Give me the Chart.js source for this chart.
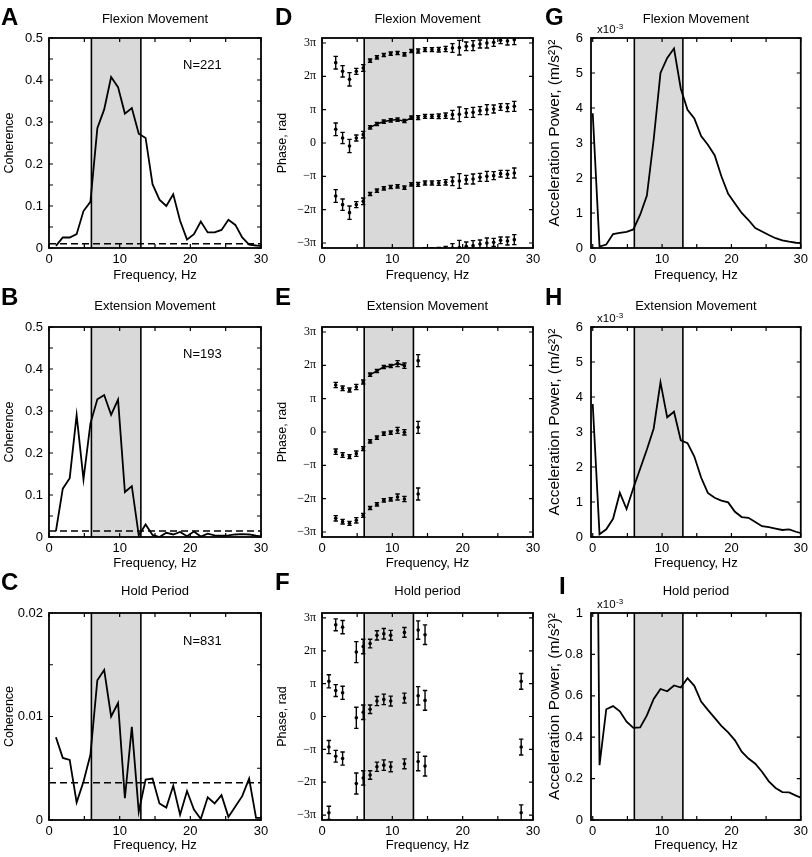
<!DOCTYPE html>
<html>
<head>
<meta charset="utf-8">
<script src="https://cdn.jsdelivr.net/npm/chart.js@4.4.1/dist/chart.umd.min.js"></script>
<style>
  body { margin: 0; background: #fff; }
  #wrap { position: relative; width: 812px; height: 857px; }
  #wrap canvas { position: absolute; left: 0; top: 0; }
</style>
</head>
<body>
<div id="wrap"></div>
<script>
// ---- data ----
const freqs = [0.98, 1.95, 2.93, 3.91, 4.88, 5.86, 6.84, 7.81, 8.79, 9.77, 10.74, 11.72, 12.70, 13.67, 14.65, 15.63,
  16.60, 17.58, 18.55, 19.53, 20.51, 21.48, 22.46, 23.44, 24.41, 25.39, 26.37, 27.34, 28.32, 29.30, 30.27];

// coherence (A, B, C)
const cohFlexion = [0.005, 0.025, 0.025, 0.033, 0.088, 0.11, 0.285, 0.33, 0.407, 0.383, 0.32, 0.333, 0.272, 0.262, 0.152, 0.115,
  0.1, 0.128, 0.065, 0.02, 0.033, 0.063, 0.037, 0.037, 0.043, 0.067, 0.055, 0.025, 0.008, 0.006, 0.005];
const cohExtension = [0.014, 0.115, 0.14, 0.29, 0.137, 0.27, 0.328, 0.338, 0.291, 0.327, 0.107, 0.121, 0.004, 0.03, 0.005, 0.0,
  0.01, 0.006, 0.012, 0.002, 0.013, 0.001, 0.008, 0.004, 0.003, 0.004, 0.006, 0.007, 0.006, 0.003, 0.001];
const cohHold = [0.0080, 0.0060, 0.0058, 0.0017, 0.0037, 0.0063, 0.0135, 0.0145, 0.0100, 0.0113, 0.0021, 0.0090, 0.0008, 0.0039, 0.0040, 0.0016,
  0.0012, 0.0033, 0.0005, 0.0028, 0.0010, 0.0001, 0.0022, 0.0016, 0.0024, 0.0003, 0.0013, 0.0023, 0.0040, 0.0002, 0.0002];
const cohSigFlexion = 0.01;
const cohSigExtension = 0.014;
const cohSigHold = 0.0036;
const nFlexion = 221, nExtension = 193, nHold = 831;

// acceleration power, x10^-3 (m/s^2)^2 (G, H, I)
const powFreqs = [0, 0.98, 1.95, 2.93, 3.91, 4.88, 5.86, 6.84, 7.81, 8.79, 9.77, 10.74, 11.72, 12.70, 13.67, 14.65, 15.63,
  16.60, 17.58, 18.55, 19.53, 20.51, 21.48, 22.46, 23.44, 24.41, 25.39, 26.37, 27.34, 28.32, 29.30, 30.27];
const powFlexion = [3.85, 0.04, 0.1, 0.4, 0.43, 0.46, 0.53, 0.95, 1.5, 3.1, 5.0, 5.43, 5.7, 4.55, 3.95, 3.7,
  3.2, 2.95, 2.65, 2.05, 1.55, 1.27, 1.0, 0.8, 0.57, 0.47, 0.37, 0.28, 0.22, 0.18, 0.15, 0.14];
const powExtension = [3.8, 0.08, 0.22, 0.52, 1.26, 0.8, 1.4, 1.95, 2.5, 3.1, 4.42, 3.42, 3.58, 2.76, 2.68, 2.3,
  1.7, 1.26, 1.12, 1.04, 0.99, 0.72, 0.57, 0.55, 0.43, 0.31, 0.28, 0.24, 0.2, 0.22, 0.15, 0.1];
const powHold = [4.0, 0.265, 0.535, 0.55, 0.525, 0.475, 0.445, 0.447, 0.505, 0.585, 0.633, 0.622, 0.65, 0.64, 0.685, 0.648,
  0.572, 0.532, 0.493, 0.455, 0.423, 0.385, 0.33, 0.297, 0.272, 0.233, 0.187, 0.155, 0.135, 0.133, 0.118, 0.104];

// phase in units of pi, with half error bars (D, E, F)
const phaseFreqFlexion = [1.95, 2.93, 3.91, 4.88, 5.86, 6.84, 7.81, 8.79, 9.77, 10.74, 11.72, 12.70, 13.67, 14.65,
  15.63, 16.60, 17.58, 18.55, 19.53, 20.51, 21.48, 22.46, 23.44, 24.41, 25.39, 26.37, 27.34];
const phaseFlexion = [0.41, 0.15, -0.09, 0.15, 0.25, 0.47, 0.57, 0.64, 0.68, 0.70, 0.66, 0.76, 0.76, 0.80,
  0.80, 0.80, 0.82, 0.85, 0.86, 0.90, 0.92, 0.97, 1.00, 1.02, 1.08, 1.06, 1.10];
const phaseErrFlexion = [0.19, 0.17, 0.2, 0.09, 0.1, 0.05, 0.05, 0.05, 0.05, 0.05, 0.05, 0.05, 0.06, 0.06,
  0.06, 0.07, 0.08, 0.13, 0.22, 0.13, 0.15, 0.12, 0.15, 0.12, 0.10, 0.12, 0.15];

const phaseFreqExtension = [1.95, 2.93, 3.91, 4.88, 5.86, 6.84, 7.81, 8.79, 9.77, 10.74, 11.72, 13.67];
const phaseExtension = [-0.59, -0.69, -0.74, -0.65, -0.5, -0.28, -0.17, -0.05, -0.02, 0.05, -0.01, 0.14];
const phaseErrExtension = [0.08, 0.07, 0.06, 0.08, 0.06, 0.05, 0.05, 0.05, 0.05, 0.09, 0.08, 0.18];

const phaseFreqHold = [0.98, 1.95, 2.93, 4.88, 5.86, 6.84, 7.81, 8.79, 9.77, 11.72, 13.67, 14.65, 28.32];
const phaseHold = [-0.93, 0.79, 0.72, -0.04, 0.13, 0.22, 0.47, 0.52, 0.47, 0.56, 0.63, 0.49, -0.93];
const phaseErrHold = [0.2, 0.18, 0.2, 0.32, 0.22, 0.13, 0.14, 0.16, 0.15, 0.15, 0.28, 0.3, 0.24];

const band = [6, 13]; // shaded frequency band, Hz

// ---- layout ----
const cols = [{ left: 49, right: 261 }, { left: 322, right: 533 }, { left: 591, right: 804 }];
const rows = [{ top: 38, bottom: 248 }, { top: 327, bottom: 537 }, { top: 613, bottom: 820 }];
const rowText = [
  { letterY: 25, titleY: 19, xTitle: 27 },
  { letterY: 305, titleY: 306, xTitle: 26 },
  { letterY: 590, titleY: 591, xTitle: 25 }
];
const letterX = [1, 275, 545];
const Y_AXIS_W = 45, X_AXIS_H = 28;
const SANS = '"Liberation Sans", Arial, sans-serif';
const SERIF = '"Liberation Serif", "Times New Roman", serif';

function isMultiple(v, step) {
  const r = v / step;
  return Math.abs(r - Math.round(r)) < 1e-6;
}
function fmt(v) { return String(Math.round(v * 1e6) / 1e6); }
function piLabel(v) {
  if (Math.abs(v) < 1e-9) return '0';
  const sign = v < 0 ? '\u2212' : '';
  const m = Math.abs(Math.round(v));
  return sign + (m === 1 ? '' : m) + '\u03c0';
}

const panelPlugin = {
  id: 'panel',
  beforeDatasetsDraw(chart, args, o) {
    const { ctx, chartArea: a, scales } = chart;
    const b0 = scales.x.getPixelForValue(o.band[0]);
    const b1 = scales.x.getPixelForValue(o.band[1]);
    ctx.save();
    ctx.fillStyle = '#d9d9d9';
    ctx.fillRect(b0, a.top, b1 - b0, a.bottom - a.top);
    ctx.strokeStyle = '#000';
    ctx.lineWidth = 1.6;
    [b0, b1].forEach(px => {
      ctx.beginPath();
      ctx.moveTo(px, a.top);
      ctx.lineTo(px, a.bottom);
      ctx.stroke();
    });
    ctx.restore();
  },
  afterDatasetsDraw(chart) {
    const { ctx, chartArea: a, scales: { x, y } } = chart;
    ctx.save();
    ctx.beginPath();
    ctx.rect(a.left, a.top, a.right - a.left, a.bottom - a.top);
    ctx.clip();
    ctx.strokeStyle = '#000';
    ctx.lineWidth = 1.4;
    chart.data.datasets.forEach(ds => {
      if (!ds.errors) return;
      ds.data.forEach((d, j) => {
        const px = x.getPixelForValue(d.x);
        const yt = y.getPixelForValue(d.y + ds.errors[j]);
        const yb = y.getPixelForValue(d.y - ds.errors[j]);
        ctx.beginPath();
        ctx.moveTo(px, yt); ctx.lineTo(px, yb);
        ctx.moveTo(px - 2.2, yt); ctx.lineTo(px + 2.2, yt);
        ctx.moveTo(px - 2.2, yb); ctx.lineTo(px + 2.2, yb);
        ctx.stroke();
      });
    });
    ctx.restore();
  },
  afterDraw(chart, args, o) {
    const { ctx, chartArea: a, scales: { x, y } } = chart;
    ctx.save();
    ctx.strokeStyle = '#000';
    ctx.fillStyle = '#000';
    // inward ticks on all four sides
    ctx.lineWidth = 1.2;
    ctx.beginPath();
    x.ticks.forEach(t => {
      const px = x.getPixelForValue(t.value);
      ctx.moveTo(px, a.bottom); ctx.lineTo(px, a.bottom - 4);
      ctx.moveTo(px, a.top); ctx.lineTo(px, a.top + 4);
    });
    y.ticks.forEach(t => {
      const py = y.getPixelForValue(t.value);
      ctx.moveTo(a.left, py); ctx.lineTo(a.left + 4, py);
      ctx.moveTo(a.right, py); ctx.lineTo(a.right - 4, py);
    });
    ctx.stroke();
    ctx.lineWidth = 1.8;
    ctx.strokeRect(a.left, a.top, a.right - a.left, a.bottom - a.top);

    // panel letter
    ctx.font = 'bold 24px ' + SANS;
    ctx.textAlign = 'left';
    ctx.textBaseline = 'alphabetic';
    ctx.fillText(o.letter, o.letterX, o.letterY);

    // title and x label
    const cx = (a.left + a.right) / 2;
    ctx.font = '13px ' + SANS;
    ctx.textAlign = 'center';
    ctx.textBaseline = 'middle';
    ctx.fillText(o.title, cx, o.titleY);
    ctx.fillText('Frequency, Hz', cx, a.bottom + o.xTitle);

    // y label
    ctx.save();
    ctx.translate(o.yTitleX, (a.top + a.bottom) / 2 + o.yTitleShift);
    ctx.rotate(-Math.PI / 2);
    ctx.font = o.yTitleSize + 'px ' + SANS;
    ctx.fillText(o.yTitle, 0, 0);
    ctx.restore();

    if (o.note) {
      ctx.font = '13px ' + SANS;
      ctx.fillText(o.note.text, x.getPixelForValue(o.note.x), y.getPixelForValue(o.note.y));
    }
    if (o.exponent) {
      ctx.textAlign = 'left';
      ctx.textBaseline = 'alphabetic';
      ctx.font = '11.5px ' + SANS;
      ctx.fillText('x10', a.left + 6, a.top - 5);
      const w = ctx.measureText('x10').width;
      ctx.font = '8px ' + SANS;
      ctx.fillText('-3', a.left + 6 + w + 0.5, a.top - 9);
    }
    ctx.restore();
  }
};

function lineSet(xs, ys) {
  return {
    data: xs.map((f, i) => ({ x: f, y: ys[i] })),
    borderColor: '#000', borderWidth: 1.8, pointRadius: 0, tension: 0, clip: 0
  };
}

function sigSet(level) {
  return {
    data: [{ x: 0, y: level }, { x: 30, y: level }],
    borderColor: '#000', borderWidth: 1.5, borderDash: [7, 4], pointRadius: 0, clip: 0
  };
}

function phaseSets(freq, mean, err, wraps, fitWrap) {
  const sets = wraps.map(k => ({
    data: freq.map((f, i) => ({ x: f, y: mean[i] + k })),
    errors: err,
    showLine: false, pointRadius: 1.8, pointBackgroundColor: '#000', pointBorderWidth: 0, clip: 0
  }));
  if (fitWrap !== null) {
    const inBand = freq.map((f, i) => i).filter(i => freq[i] > band[0] && freq[i] < band[1]);
    sets.push({
      data: inBand.map(i => ({ x: freq[i], y: mean[i] + fitWrap })),
      borderColor: '#000', borderWidth: 1.5, pointRadius: 0, tension: 0.4, clip: 0
    });
  }
  return sets;
}

const cohAxis = { yTitle: 'Coherence', yTitleX: 10, yTitleSize: 12.5, yTitleShift: 0 };
const phaseAxis = { yTitle: 'Phase, rad', yTitleX: 283, yTitleSize: 12.5, yTitleShift: 0 };
const powAxis = { yTitle: 'Acceleration Power, (m/s\u00b2)\u00b2', yTitleX: 555, yTitleSize: 15.5, yTitleShift: -10 };

const panels = [
  { col: 0, row: 0, letter: 'A', title: 'Flexion Movement', axis: cohAxis,
    datasets: [lineSet(freqs, cohFlexion), sigSet(cohSigFlexion)],
    y: { min: 0, max: 0.5, step: 0.05, labelStep: 0.1 }, note: { text: 'N=' + nFlexion, x: 21.7, y: 0.435 } },
  { col: 0, row: 1, letter: 'B', title: 'Extension Movement', axis: cohAxis,
    datasets: [lineSet(freqs, cohExtension), sigSet(cohSigExtension)],
    y: { min: 0, max: 0.5, step: 0.05, labelStep: 0.1 }, note: { text: 'N=' + nExtension, x: 21.7, y: 0.435 } },
  { col: 0, row: 2, letter: 'C', title: 'Hold Period', axis: cohAxis,
    datasets: [lineSet(freqs, cohHold), sigSet(cohSigHold)],
    y: { min: 0, max: 0.02, step: 0.005, labelStep: 0.01 }, note: { text: 'N=' + nHold, x: 21.7, y: 0.0173 } },
  { col: 1, row: 0, letter: 'D', title: 'Flexion Movement', axis: phaseAxis, phase: true,
    datasets: phaseSets(phaseFreqFlexion, phaseFlexion, phaseErrFlexion, [-4, -2, 0, 2], 0),
    y: { min: -3.15, max: 3.15, step: 1, labelStep: 1 } },
  { col: 1, row: 1, letter: 'E', title: 'Extension Movement', axis: phaseAxis, phase: true,
    datasets: phaseSets(phaseFreqExtension, phaseExtension, phaseErrExtension, [-2, 0, 2], 2),
    y: { min: -3.15, max: 3.15, step: 1, labelStep: 1 } },
  { col: 1, row: 2, letter: 'F', title: 'Hold period', axis: phaseAxis, phase: true,
    datasets: phaseSets(phaseFreqHold, phaseHold, phaseErrHold, [-2, 0, 2], null),
    y: { min: -3.15, max: 3.15, step: 1, labelStep: 1 } },
  { col: 2, row: 0, letter: 'G', title: 'Flexion Movement', axis: powAxis, exponent: true,
    datasets: [lineSet(powFreqs, powFlexion)], y: { min: 0, max: 6, step: 1, labelStep: 1 } },
  { col: 2, row: 1, letter: 'H', title: 'Extension Movement', axis: powAxis, exponent: true,
    datasets: [lineSet(powFreqs, powExtension)], y: { min: 0, max: 6, step: 1, labelStep: 1 } },
  { col: 2, row: 2, letter: 'I', title: 'Hold period', axis: powAxis, exponent: true, letterX: 559, letterY: 594,
    datasets: [lineSet(powFreqs, powHold)], y: { min: 0, max: 1, step: 0.2, labelStep: 0.2 } }
];

function makeChart(p) {
  const canvas = document.createElement('canvas');
  canvas.width = 812;
  canvas.height = 857;
  document.getElementById('wrap').appendChild(canvas);
  const c = cols[p.col], r = rows[p.row], t = rowText[p.row];
  const tickFont = { family: SANS, size: 13 };
  new Chart(canvas, {
    type: 'line',
    data: { datasets: p.datasets },
    options: {
      responsive: false,
      animation: false,
      devicePixelRatio: 1,
      events: [],
      layout: {
        autoPadding: false,
        padding: { left: c.left - Y_AXIS_W, top: r.top, right: 812 - c.right, bottom: 857 - r.bottom - X_AXIS_H }
      },
      plugins: {
        legend: { display: false },
        tooltip: { enabled: false },
        panel: {
          letter: p.letter,
          letterX: p.letterX !== undefined ? p.letterX : letterX[p.col],
          letterY: p.letterY !== undefined ? p.letterY : t.letterY,
          title: p.title,
          titleY: t.titleY,
          xTitle: t.xTitle,
          yTitle: p.axis.yTitle,
          yTitleX: p.axis.yTitleX,
          yTitleSize: p.axis.yTitleSize,
          yTitleShift: p.axis.yTitleShift,
          band: band,
          note: p.note || null,
          exponent: !!p.exponent
        }
      },
      scales: {
        x: {
          type: 'linear',
          min: p.col === 2 ? -0.25 : 0,
          max: 30,
          afterFit: s => { s.height = X_AXIS_H; },
          grid: { display: false, drawTicks: false },
          border: { display: false },
          ticks: {
            stepSize: 5, autoSkip: false, includeBounds: false, maxRotation: 0, padding: 4,
            maxTicksLimit: 50, color: '#000', font: tickFont,
            callback: v => isMultiple(v, 10) ? fmt(v) : ''
          }
        },
        y: {
          type: 'linear',
          min: p.y.min,
          max: p.y.max,
          afterFit: s => { s.width = Y_AXIS_W; },
          grid: { display: false, drawTicks: false },
          border: { display: false },
          ticks: {
            stepSize: p.y.step, autoSkip: false, includeBounds: false, padding: p.col === 2 ? 8 : 6,
            maxTicksLimit: 50, color: '#000',
            font: p.phase ? { family: SERIF, size: 12 } : tickFont,
            callback: v => {
              if (!isMultiple(v, p.y.labelStep)) return '';
              return p.phase ? piLabel(v) : fmt(v);
            }
          }
        }
      }
    },
    plugins: [panelPlugin]
  });
}

panels.forEach(makeChart);
</script>
</body>
</html>
